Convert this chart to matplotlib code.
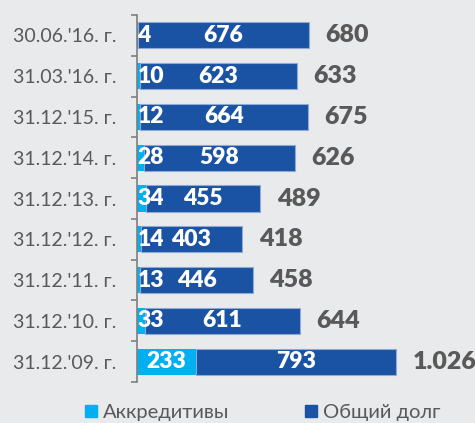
import matplotlib.pyplot as plt
from matplotlib.patches import Patch

BG = '#E9EAEC'
CYAN = '#00B0F0'
NAVY = '#1A53A3'
GRAY = '#595959'

dates = ["30.06.'16. г.", "31.03.'16. г.", "31.12.'15. г.", "31.12.'14. г.",
         "31.12.'13. г.", "31.12.'12. г.", "31.12.'11. г.", "31.12.'10. г.",
         "31.12.'09. г."]
letters_of_credit = [4, 10, 12, 28, 34, 14, 13, 33, 233]
total_debt = [676, 623, 664, 598, 455, 403, 446, 611, 793]
totals = [680, 633, 675, 626, 489, 418, 458, 644, 1026]

plt.rcParams['font.family'] = ['Lato', 'DejaVu Sans']

fig = plt.figure(figsize=(4.75, 4.23), dpi=100, facecolor=BG)
ax = fig.add_axes([137 / 475, 1 - 382 / 423, 1 - 137 / 475, 367 / 423])
ax.set_facecolor(BG)

y = list(range(len(dates)))
ax.barh(y, letters_of_credit, height=0.64, color=CYAN, edgecolor='none')
ax.barh(y, total_debt, left=letters_of_credit, height=0.64, color=NAVY,
        edgecolor='#8FA9D6', linewidth=0.8)

for i in y:
    lc = letters_of_credit[i]
    if lc >= 100:
        ax.text(lc / 2, i, str(lc), ha='center', va='center', color='white',
                fontsize=16.5, fontweight='heavy')
    else:
        ax.text(2, i, str(lc), ha='left', va='center', color='white',
                fontsize=16.5, fontweight='heavy')
    ax.text(lc + total_debt[i] / 2, i, str(total_debt[i]), ha='center', va='center',
            color='white', fontsize=16.5, fontweight='heavy')
    label = f'{totals[i]:,}'.replace(',', '.')
    ax.text(lc + total_debt[i] + 66, i, label, ha='left', va='center',
            color=GRAY, fontsize=18, fontweight='heavy')

ax.set_xlim(0, 1339)
ax.set_ylim(len(dates) - 0.5, -0.5)
ax.set_yticks(y)
ax.set_yticklabels(dates, fontsize=14, color=GRAY)
ax.set_yticks([i - 0.5 for i in range(len(dates) + 1)], minor=True)
ax.tick_params(axis='y', which='major', length=0, pad=15)
ax.tick_params(axis='y', which='minor', length=4, width=1.2, color='#7F7F7F')
ax.set_xticks([])
for s in ['top', 'right', 'bottom']:
    ax.spines[s].set_visible(False)
ax.spines['left'].set_color('#7F7F7F')
ax.spines['left'].set_linewidth(1.2)

handles = [Patch(color=CYAN, label='Аккредитивы'), Patch(color=NAVY, label='Общий долг')]
fig.legend(handles=handles, loc='upper left', bbox_to_anchor=(85 / 475, 1 - 404 / 423),
           ncol=2, frameon=False, fontsize=14.5, labelcolor=GRAY, borderpad=0,
           borderaxespad=0, handlelength=0.6, handleheight=0.6, handletextpad=0.3,
           columnspacing=3.75)

fig.savefig('out.png', dpi=100, facecolor=BG)
